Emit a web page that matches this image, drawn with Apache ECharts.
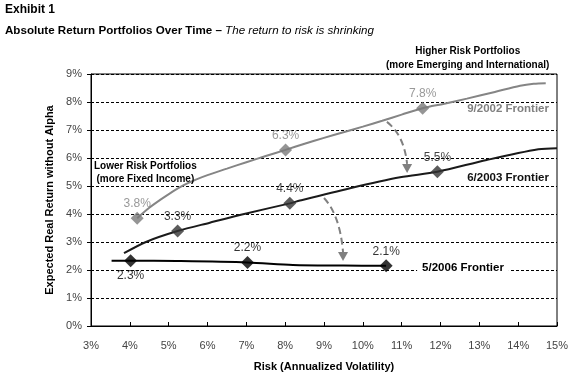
<!DOCTYPE html>
<html><head><meta charset="utf-8">
<script src="https://cdn.jsdelivr.net/npm/echarts@6/dist/echarts.min.js"></script>
<style>html,body{margin:0;padding:0;background:#fff}#c{width:576px;height:378px}</style>
</head><body><div id="c"></div>
<script>
// ---- data (risk %, return %) ----
const frontier2002 = [[4.19,3.85],[4.5,4.22],[4.8,4.52],[5.1,4.8],[5.4,5.04],[5.7,5.23],[6.0,5.39],[6.5,5.62],[7.0,5.85],[7.5,6.07],[8.01,6.29],[8.5,6.51],[9.0,6.72],[9.5,6.92],[10.0,7.12],[10.5,7.33],[11.0,7.55],[11.54,7.78],[12.1,7.94],[12.68,8.12],[13.4,8.36],[14.05,8.58],[14.4,8.65],[14.71,8.67]];
const frontier2003 = [[3.85,2.6],[4.43,3.01],[5.23,3.39],[6.06,3.69],[7.0,4.02],[8.12,4.38],[8.38,4.48],[9.67,4.92],[10.96,5.31],[11.92,5.51],[13.19,5.93],[14.52,6.31],[15.0,6.35]];
const frontier2006 = [[3.53,2.33],[4.02,2.33],[5.2,2.32],[7.03,2.27],[8.2,2.18],[9.5,2.16],[10.6,2.15]];
const points2002 = [[4.19,3.85],[8.01,6.29],[11.54,7.78]];
const labels2002 = ['3.8%','6.3%','7.8%'];
const points2003 = [[5.23,3.39],[8.12,4.38],[11.92,5.51]];
const labels2003 = ['3.3%','4.4%','5.5%'];
const points2006 = [[4.02,2.33],[7.03,2.27],[10.6,2.15]];
const labels2006 = ['2.3%','2.2%','2.1%'];
const labelPos2006 = ['bottom','top','top'];
const seriesNames = ['9/2002 Frontier','6/2003 Frontier','5/2006 Frontier'];
const xName = 'Risk (Annualized Volatility)';
const yName = 'Expected Real Return without Alpha';
// annotation anchors in data coordinates
const seriesNameAnchors = [[13.74,7.76],[13.74,5.29],[12.58,2.07]];
const lowerRiskAnchor = [4.4,5.46];
const higherRiskAnchor = [12.7,9.55];
const arrows = [
  {from:[10.62,7.29], ctrl:[11.06,6.82], base:[11.14,5.79], tip:[11.14,5.46]},
  {from:[9.0,4.57], ctrl:[9.41,3.96], base:[9.49,2.64], tip:[9.49,2.32]}
];

const FONT = 'Liberation Sans, Arial, sans-serif';
const GRAY = '#808080';
const chart = echarts.init(document.getElementById('c'), null, {renderer:'canvas'});

function pts(arr, labels, pos, lblColor){
  return arr.map((p,i)=>({value:p, label:{show:true, formatter:labels[i], position:pos?pos[i]:'top', distance:2, color:lblColor, fontSize:12, fontFamily:FONT}}));
}

chart.setOption({
  animation:false,
  grid:{left:91, right:19, top:74, bottom:52, show:true, borderColor:'#000', borderWidth:1},
  xAxis:{type:'value', min:3, max:15, interval:1,
    name:xName, nameLocation:'middle', nameGap:35,
    nameTextStyle:{fontFamily:FONT, fontSize:11, fontWeight:'bold', color:'#000'},
    axisLine:{lineStyle:{color:'#000', width:1}},
    axisTick:{show:true, inside:true, length:4, lineStyle:{color:'#000'}},
    axisLabel:{formatter:'{value}%', fontFamily:FONT, fontSize:11, color:'#444', margin:14},
    splitLine:{show:false}},
  yAxis:{type:'value', min:0, max:9, interval:1,
    name:yName, nameLocation:'middle', nameGap:30, nameRotate:90,
    nameTextStyle:{fontFamily:FONT, fontSize:11, fontWeight:'bold', color:'#000'},
    axisLine:{show:true, lineStyle:{color:'#000', width:1}},
    axisTick:{show:true, inside:false, length:4, lineStyle:{color:'#000'}},
    axisLabel:{formatter:'{value}%', fontFamily:FONT, fontSize:11, color:'#444', margin:9},
    splitLine:{show:true, lineStyle:{color:'#000', type:[3,2], width:1}}},
  series:[
    {name:seriesNames[0], type:'line', data:frontier2002, smooth:0.3, showSymbol:false, lineStyle:{color:'#858585', width:2}, z:2},
    {name:seriesNames[1], type:'line', data:frontier2003, smooth:0.3, showSymbol:false, lineStyle:{color:'#1a1a1a', width:2}, z:2},
    {name:seriesNames[2], type:'line', data:frontier2006, smooth:0.3, showSymbol:false, lineStyle:{color:'#000', width:2}, z:2},
    {type:'scatter', symbol:'diamond', symbolSize:13, itemStyle:{color:'#7a7a7a'}, data:pts(points2002, labels2002, null, GRAY), z:5},
    {type:'scatter', symbol:'diamond', symbolSize:13, itemStyle:{color:'#333'}, data:pts(points2003, labels2003, null, '#111'), z:5},
    {type:'scatter', symbol:'diamond', symbolSize:13, itemStyle:{color:'#000'}, data:pts(points2006, labels2006, labelPos2006, '#000'), z:5}
  ]
});

function px(p){ return chart.convertToPixel({gridIndex:0}, p); }
const g = [];
g.push({type:'text', left:5, top:4, style:{text:'Exhibit 1', font:'bold 12px '+FONT, fill:'#000'}});
g.push({type:'text', left:5, top:25, style:{
  text:'{b|Absolute Return Portfolios Over Time – }{i|The return to risk is shrinking}',
  rich:{b:{font:'bold 11.6px '+FONT, fill:'#000'}, i:{font:'italic 11.6px '+FONT, fill:'#000'}}}});
const nameColors = [GRAY,'#111','#000'];
seriesNameAnchors.forEach((a,i)=>{
  const p = px(a);
  g.push({type:'text', x:p[0], y:p[1], z:10, style:{text:seriesNames[i], font:'bold 11.5px '+FONT, fill:nameColors[i], align:'center', verticalAlign:'middle',
    backgroundColor: i===2 ? '#fff' : null, padding: i===2 ? [1,5] : 0}});
});
(function(){
  const p = px(lowerRiskAnchor);
  g.push({type:'text', x:p[0], y:p[1], z:10, style:{text:'Lower Risk Portfolios\n(more Fixed Income)', font:'bold 10px '+FONT, fill:'#000', align:'center', verticalAlign:'middle', lineHeight:13}});
  const q = px(higherRiskAnchor);
  g.push({type:'text', x:q[0], y:q[1], z:10, style:{text:'Higher Risk Portfolios\n(more Emerging and International)', font:'bold 10px '+FONT, fill:'#000', align:'center', verticalAlign:'middle', lineHeight:14}});
})();
arrows.forEach(a=>{
  const f = px(a.from), c = px(a.ctrl), b = px(a.base), t = px(a.tip);
  g.push({type:'bezierCurve', z:8, shape:{x1:f[0], y1:f[1], x2:b[0], y2:b[1], cpx1:c[0], cpy1:c[1]},
    style:{stroke:GRAY, lineWidth:2, lineDash:[7,4], fill:null}});
  g.push({type:'polygon', z:8, shape:{points:[[b[0]-5,b[1]],[b[0]+5,b[1]],[t[0],t[1]]]}, style:{fill:GRAY}});
});
chart.setOption({graphic:g});
</script>
</body></html>
